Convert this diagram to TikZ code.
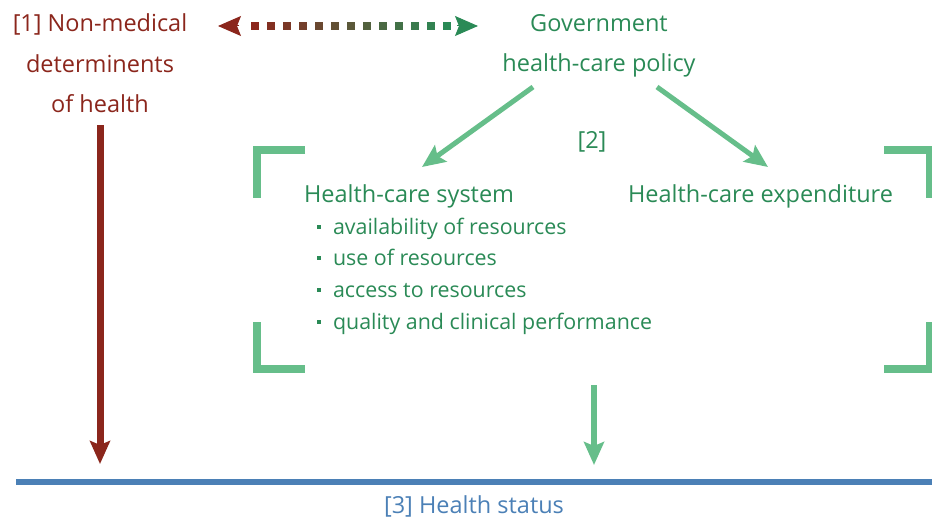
\documentclass[tikz,border=0pt]{standalone}
\usepackage{fontspec}
\setmainfont{Open Sans}
\usetikzlibrary{arrows.meta}
\definecolor{dred}{RGB}{139,38,28}
\definecolor{tgreen}{RGB}{42,138,86}
\definecolor{lgreen}{RGB}{102,190,138}
\definecolor{sblue}{RGB}{75,128,182}
\begin{document}
\begin{tikzpicture}[x=1pt,y=-1pt,
  every node/.style={inner sep=0pt, outer sep=0pt},
  big/.style={font=\fontsize{23.5}{28}\selectfont},
  small/.style={font=\fontsize{21.4}{25}\selectfont},
  redtext/.style={big, text=dred, anchor=base},
  greentext/.style={big, text=tgreen, anchor=base},
  bullettext/.style={small, text=tgreen, anchor=base west},
  bulletdot/.style={fill=tgreen, minimum size=4pt, inner sep=0pt},
  bracket/.style={draw=lgreen, line width=8pt, line join=miter},
  tip/.style={-{Stealth[length=23pt,width=20pt,inset=4pt]}},
  garrow/.style={draw=lgreen, line width=5pt, tip},
]
\useasboundingbox (0,0) rectangle (932,519);

% texts
\node[redtext] (n1a) at (100,32) {[1] Non-medical};
\node[redtext] (n1b) at (100,73) {determinents};
\node[redtext] (n1c) at (100,112) {of health};
\node[greentext] (gov1) at (599,32) {Government};
\node[greentext] (gov2) at (599,72) {health-care policy};
\node[greentext] (two) at (592,148) {[2]};
\node[greentext, anchor=base west] (hcs) at (304,202) {Health-care system};
\node[greentext, anchor=base east] (hce) at (893,202) {Health-care expenditure};
\node[bullettext] (b1) at (333,234) {availability of resources};
\node[bullettext] (b2) at (333,265) {use of resources};
\node[bullettext] (b3) at (333,297) {access to resources};
\node[bullettext] (b4) at (333,329) {quality and clinical performance};
\foreach \n/\y in {d1/227,d2/258,d3/290,d4/322}
  \node[bulletdot] (\n) at (319,\y) {};
\node[big, text=sblue, anchor=base] (hs) at (474,513) {[3] Health status};

% coordinates
\coordinate (dl) at (218,26);
\coordinate (dlb) at (239,26);
\coordinate (dr) at (478,26);
\coordinate (drb) at (457,26);
\coordinate (gls) at (533,87);
\coordinate (glt) at (422,167);
\coordinate (grs) at (657,87);
\coordinate (grt) at (768,167);
\coordinate (rs) at (100,125);
\coordinate (rt) at (100,464);
\coordinate (gs) at (594,385);
\coordinate (gt) at (594,465);
\coordinate (bl) at (16,482);
\coordinate (br) at (932,482);

% dotted gradient double arrow
\foreach \i in {0,...,12} {
  \pgfmathtruncatemacro\p{100-\i*100/12}
  \fill[dred!\p!tgreen] (251+\i*16,22) rectangle ++(8,8);
}
\draw[dred, line width=1pt, tip] (dlb) -- (dl);
\draw[tgreen, line width=1pt, tip] (drb) -- (dr);

% policy arrows
\draw[garrow] (gls) -- (glt);
\draw[garrow] (grs) -- (grt);

% brackets
\draw[bracket] (305,150) -- (257,150) -- (257,198);
\draw[bracket] (257,322) -- (257,369) -- (305,369);
\draw[bracket] (884,150) -- (930,150) -- (930,198);
\draw[bracket] (930,322) -- (930,369) -- (884,369);

% vertical arrows
\draw[dred, line width=7pt, tip] (rs) -- (rt);
\draw[lgreen, line width=6pt, tip] (gs) -- (gt);

% health status line
\draw[sblue, line width=6pt] (bl) -- (br);
\end{tikzpicture}
\end{document}
